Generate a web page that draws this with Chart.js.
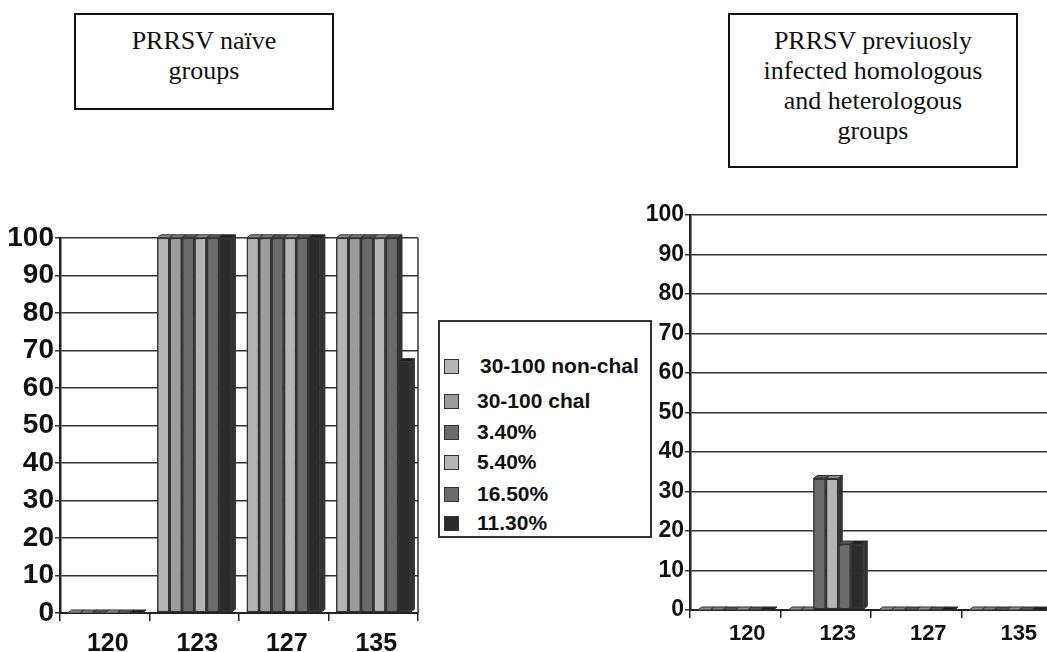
<!DOCTYPE html>
<html><head><meta charset="utf-8">
<script src="https://cdn.jsdelivr.net/npm/chart.js@4/dist/chart.umd.min.js"></script>
<style>
html,body{margin:0;padding:0;background:#fff;width:1047px;height:652px;overflow:hidden;position:relative;font-family:"Liberation Sans",Arial,sans-serif;}
.title{position:absolute;border:2px solid #111;box-sizing:border-box;font-family:"Liberation Serif","Times New Roman",serif;font-size:26px;line-height:30px;text-align:center;color:#111;padding-top:11px;background:#fff;}
#t1{left:74px;top:13px;width:260px;height:97px;}
#t2{left:728px;top:13px;width:290px;height:155px;}
#legend{position:absolute;left:438px;top:320px;width:214px;height:218px;border:2px solid #333;box-sizing:border-box;background:#fff;z-index:2;}
.item{position:absolute;left:4px;height:24px;display:flex;align-items:center;font-weight:bold;font-size:21px;color:#111;white-space:nowrap;}
.sw{width:15px;height:15px;border:1.5px solid #333;box-sizing:border-box;margin-right:18px;flex:none;}
canvas{position:absolute;}
#c1{left:0;top:220px;}
#c2{left:600px;top:200px;}
</style></head>
<body>
<div class="title" id="t1">PRRSV naïve<br>groups</div>
<div class="title" id="t2">PRRSV previuosly<br>infected homologous<br>and heterologous<br>groups</div>
<canvas id="c1" width="430" height="432"></canvas>
<canvas id="c2" width="460" height="452"></canvas>
<div id="legend"></div>
<script>
// ---- data ----
const categories = ['120', '123', '127', '135'];
const seriesNames = ['30-100 non-chal', '30-100 chal', '3.40%', '5.40%', '16.50%', '11.30%'];
const naive_nonchal = [0, 100, 100, 100];
const naive_chal    = [0, 100, 100, 100];
const naive_340     = [0, 100, 100, 100];
const naive_540     = [0, 100, 100, 100];
const naive_1650    = [0, 100, 100, 100];
const naive_1130    = [0, 100, 100, 67];
const prev_nonchal  = [0, 0, 0, 0];
const prev_chal     = [0, 0, 0, 0];
const prev_340      = [0, 33.3, 0, 0];
const prev_540      = [0, 33.3, 0, 0];
const prev_1650     = [0, 16.7, 0, 0];
const prev_1130     = [0, 16.7, 0, 0];
const yTicks = [0, 10, 20, 30, 40, 50, 60, 70, 80, 90, 100];

// ---- styles ----
const frontColors = ['#b5b5b5', '#9c9c9c', '#6b6b6b', '#b5b5b5', '#6b6b6b', '#2b2b2b'];
const topColors   = ['#8c8c8c', '#7e7e7e', '#565656', '#8c8c8c', '#565656', '#1c1c1c'];
const legendRowTops = [32, 67, 98, 128, 160, 189];

// legend
const lg = document.getElementById('legend');
seriesNames.forEach((n, i) => {
  const d = document.createElement('div');
  d.className = 'item';
  d.style.top = legendRowTops[i] + 'px';
  const s = document.createElement('span'); s.className = 'sw'; s.style.background = frontColors[i];
  if (i === 0) s.style.marginRight = '21px';
  d.appendChild(s);
  d.appendChild(document.createTextNode(n));
  lg.appendChild(d);
});

const depth3d = {
  id: 'depth3d',
  afterDatasetsDraw(chart) {
    const ctx = chart.ctx, dx = 4, dy = 3;
    ctx.save();
    ctx.beginPath();
    ctx.rect(chart.chartArea.left, 0, chart.width, chart.chartArea.bottom + 2);
    ctx.clip();
    chart.data.datasets.forEach((ds, i) => {
      const meta = chart.getDatasetMeta(i);
      meta.data.forEach(el => {
        el.draw(ctx, chart.chartArea);
        const p = el.getProps(['x', 'y', 'base', 'width'], true);
        const l = p.x - p.width / 2, r = p.x + p.width / 2;
        ctx.lineWidth = 1; ctx.strokeStyle = '#333';
        ctx.beginPath();
        ctx.moveTo(l, p.y); ctx.lineTo(l + dx, p.y - dy); ctx.lineTo(r + dx, p.y - dy); ctx.lineTo(r, p.y); ctx.closePath();
        ctx.fillStyle = topColors[i]; ctx.fill(); ctx.stroke();
        ctx.beginPath();
        ctx.moveTo(r, p.y); ctx.lineTo(r + dx, p.y - dy); ctx.lineTo(r + dx, p.base - dy); ctx.lineTo(r, p.base); ctx.closePath();
        ctx.fillStyle = '#333'; ctx.fill(); ctx.stroke();
      });
    });
    ctx.restore();
  }
};

const rightWall = {
  id: 'rightWall',
  afterDraw(chart, args, opts) {
    if (!opts.show) return;
    const ctx = chart.ctx, a = chart.chartArea;
    ctx.save(); ctx.strokeStyle = '#333'; ctx.lineWidth = 1.5;
    ctx.beginPath(); ctx.moveTo(a.right, a.top); ctx.lineTo(a.right, a.bottom); ctx.stroke();
    ctx.restore();
  }
};

function makeChart(id, series, cfg) {
  const datasets = series.map((vals, i) => ({
    label: seriesNames[i],
    data: vals,
    backgroundColor: frontColors[i],
    borderColor: '#333',
    borderWidth: 1.5,
    borderSkipped: false,
    barPercentage: 1,
    categoryPercentage: 0.83
  }));
  return new Chart(document.getElementById(id), {
    type: 'bar',
    data: { labels: categories, datasets },
    plugins: [depth3d, rightWall],
    options: {
      responsive: false,
      animation: false,
      layout: { padding: { top: cfg.padTop, right: cfg.padRight, left: 0, bottom: 0 } },
      plugins: { legend: { display: false }, tooltip: { enabled: false }, rightWall: { show: cfg.wall } },
      scales: {
        x: {
          type: 'category',
          afterFit(s) { s.height = cfg.xh; },
          grid: { offset: true, drawOnChartArea: false, tickLength: 8, color: '#222', lineWidth: 1.5 },
          border: { color: '#222', width: 2 },
          ticks: { color: '#111', font: { family: '"Liberation Sans", Arial, sans-serif', size: cfg.xFont, weight: 'bold' }, padding: cfg.xPad, labelOffset: cfg.labelOffset, maxRotation: 0 }
        },
        y: {
          min: 0, max: 100,
          afterFit(s) { s.width = cfg.yw; },
          afterBuildTicks(s) { s.ticks = yTicks.map(v => ({ value: v })); },
          grid: { color: '#333', lineWidth: 1.5, tickLength: 5 },
          border: { color: '#222', width: 2.5 },
          ticks: { color: '#111', font: { family: '"Liberation Sans", Arial, sans-serif', size: cfg.yFont, weight: 'bold' }, padding: 1 }
        }
      }
    }
  });
}

makeChart('c1', [naive_nonchal, naive_chal, naive_340, naive_540, naive_1650, naive_1130],
  { padTop: 15, padRight: 12, xh: 39, yw: 60, xFont: 25, yFont: 28, xPad: 8, labelOffset: 3, wall: true });
makeChart('c2', [prev_nonchal, prev_chal, prev_340, prev_540, prev_1650, prev_1130],
  { padTop: 15, padRight: 8, xh: 42, yw: 90, xFont: 22, yFont: 23, xPad: 3, labelOffset: 12, wall: false });
</script>
</body></html>
